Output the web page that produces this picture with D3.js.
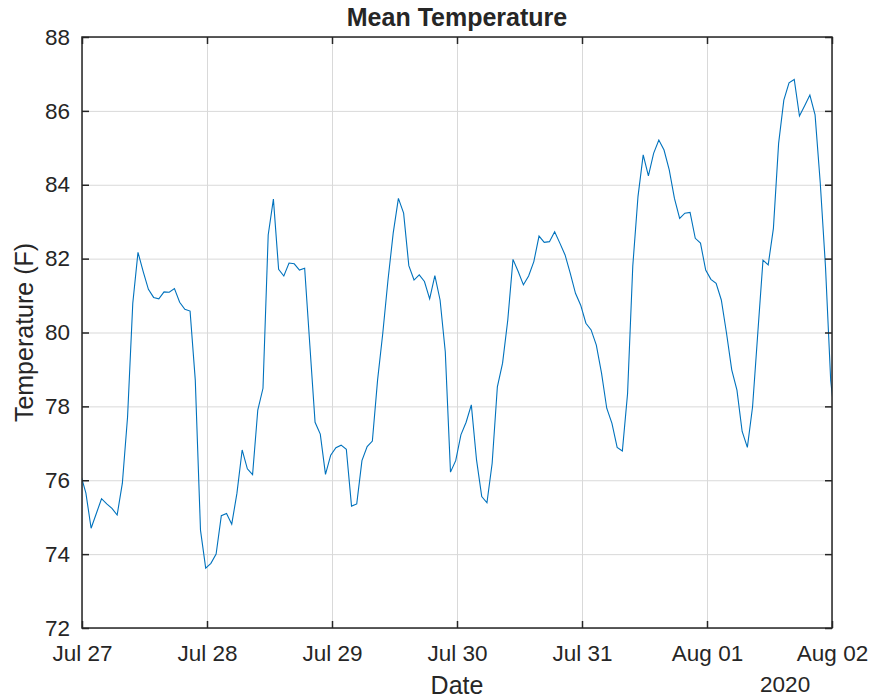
<!DOCTYPE html>
<html>
<head>
<meta charset="utf-8">
<script src="https://cdn.jsdelivr.net/npm/d3@7"></script>
<style>
  body { margin: 0; background: #fff; }
  svg text { font-family: "Liberation Sans", Arial, Helvetica, sans-serif; fill: #262626; }
</style>
</head>
<body>
<svg id="chart"></svg>
<script>
var width = 870;
var height = 698;
var margin = {left: 82, right: 38, top: 37, bottom: 70};

// hourly readings, first one at Jul 26 23:45 (axis is clipped to Jul 27 - Aug 02)
var startTime = new Date(2020, 6, 26, 23, 45);
var temps = [
  76.15, 75.65, 74.70, 75.10, 75.50, 75.36, 75.24, 75.06, 75.92, 77.72, 80.79, 82.17,
  81.65, 81.17, 80.95, 80.91, 81.10, 81.09, 81.19, 80.82, 80.63, 80.58, 78.71, 74.65,
  73.62, 73.75, 74.00, 75.04, 75.10, 74.81, 75.65, 76.82, 76.31, 76.15, 77.90, 78.49,
  82.64, 83.61, 81.71, 81.53, 81.88, 81.86, 81.69, 81.74, 79.65, 77.57, 77.25, 76.16,
  76.68, 76.88, 76.95, 76.84, 75.30, 75.36, 76.53, 76.91, 77.06, 78.71, 79.98, 81.42,
  82.69, 83.63, 83.23, 81.81, 81.42, 81.56, 81.38, 80.91, 81.54, 80.88, 79.48, 76.22,
  76.53, 77.23, 77.57, 78.04, 76.55, 75.56, 75.39, 76.46, 78.53, 79.17, 80.34, 81.98,
  81.65, 81.29, 81.53, 81.92, 82.61, 82.44, 82.46, 82.73, 82.42, 82.10, 81.60, 81.06,
  80.74, 80.25, 80.07, 79.66, 78.90, 77.95, 77.54, 76.89, 76.79, 78.35, 81.80, 83.68,
  84.81, 84.24, 84.85, 85.21, 84.94, 84.40, 83.63, 83.09, 83.23, 83.25, 82.55, 82.42,
  81.69, 81.44, 81.33, 80.88, 79.98, 78.99, 78.44, 77.32, 76.89, 77.99, 79.98, 81.96,
  81.83, 82.82, 85.12, 86.29, 86.76, 86.85, 85.86, 86.14, 86.43, 85.89, 84.04, 81.78,
  78.70, 77.40
];
var xLimits = [new Date(2020, 6, 27), new Date(2020, 7, 2)];
var yLimits = [72, 88];
var yTicks = [72, 74, 76, 78, 80, 82, 84, 86, 88];

var data = temps.map(function (t, i) {
  return {date: d3.timeHour.offset(startTime, i), temp: t};
});

var w = width - margin.left - margin.right;
var h = height - margin.top - margin.bottom;

var x = d3.scaleTime().domain(xLimits).range([0, w]);
var y = d3.scaleLinear().domain(yLimits).range([h, 0]);
var xTicks = d3.timeDay.range(xLimits[0], d3.timeDay.offset(xLimits[1], 1));

var svg = d3.select("#chart").attr("width", width).attr("height", height);
var g = svg.append("g").attr("transform", "translate(" + margin.left + "," + margin.top + ")");

// grid
g.append("g").attr("class", "grid")
  .attr("transform", "translate(0," + h + ")")
  .call(d3.axisBottom(x).tickValues(xTicks).tickSize(-h).tickFormat(""));
g.append("g").attr("class", "grid")
  .call(d3.axisLeft(y).tickValues(yTicks).tickSize(-w).tickFormat(""));
g.selectAll(".grid .domain").remove();
g.selectAll(".grid line").attr("stroke", "#d9d9d9").attr("stroke-width", 1);

// data line, clipped to the axes box
g.append("clipPath").attr("id", "clip")
  .append("rect").attr("width", w).attr("height", h);

var line = d3.line()
  .x(function (d) { return x(d.date); })
  .y(function (d) { return y(d.temp); });

g.append("path")
  .datum(data)
  .attr("clip-path", "url(#clip)")
  .attr("fill", "none")
  .attr("stroke", "#0072BD")
  .attr("stroke-width", 1.1)
  .attr("d", line);

// axes, ticks pointing inward on all four sides
var tickLen = 7;
g.append("g").attr("class", "axis")
  .attr("transform", "translate(0," + h + ")")
  .call(d3.axisBottom(x).tickValues(xTicks).tickSizeInner(-tickLen).tickSizeOuter(0)
    .tickPadding(17).tickFormat(d3.timeFormat("%b %d")));
g.append("g").attr("class", "axis")
  .call(d3.axisTop(x).tickValues(xTicks).tickSizeInner(-tickLen).tickSizeOuter(0).tickFormat(""));
g.append("g").attr("class", "axis")
  .call(d3.axisLeft(y).tickValues(yTicks).tickSizeInner(-tickLen).tickSizeOuter(0).tickPadding(12));
g.append("g").attr("class", "axis")
  .attr("transform", "translate(" + w + ",0)")
  .call(d3.axisRight(y).tickValues(yTicks).tickSizeInner(-tickLen).tickSizeOuter(0).tickFormat(""));

g.selectAll(".axis .domain").remove();
g.selectAll(".axis line").attr("stroke", "#262626").attr("stroke-width", 1.5);
g.selectAll(".axis text").attr("font-size", 22.5).attr("fill", "#262626");

g.append("rect")
  .attr("width", w).attr("height", h)
  .attr("fill", "none").attr("stroke", "#262626").attr("stroke-width", 1.5);

// labels
svg.append("text")
  .attr("x", margin.left + w / 2).attr("y", 26)
  .attr("text-anchor", "middle")
  .attr("font-size", 25).attr("font-weight", "bold").attr("fill", "#000")
  .text("Mean Temperature");

svg.append("text")
  .attr("x", margin.left + w / 2).attr("y", 694)
  .attr("text-anchor", "middle")
  .attr("font-size", 25)
  .text("Date");

svg.append("text")
  .attr("x", margin.left + x(new Date(2020, 7, 1, 15))).attr("y", 692)
  .attr("text-anchor", "middle")
  .attr("font-size", 22.5)
  .text("2020");

svg.append("text")
  .attr("transform", "translate(33," + (margin.top + h / 2) + ") rotate(-90)")
  .attr("text-anchor", "middle")
  .attr("font-size", 25)
  .text("Temperature (F)");
</script>
</body>
</html>
